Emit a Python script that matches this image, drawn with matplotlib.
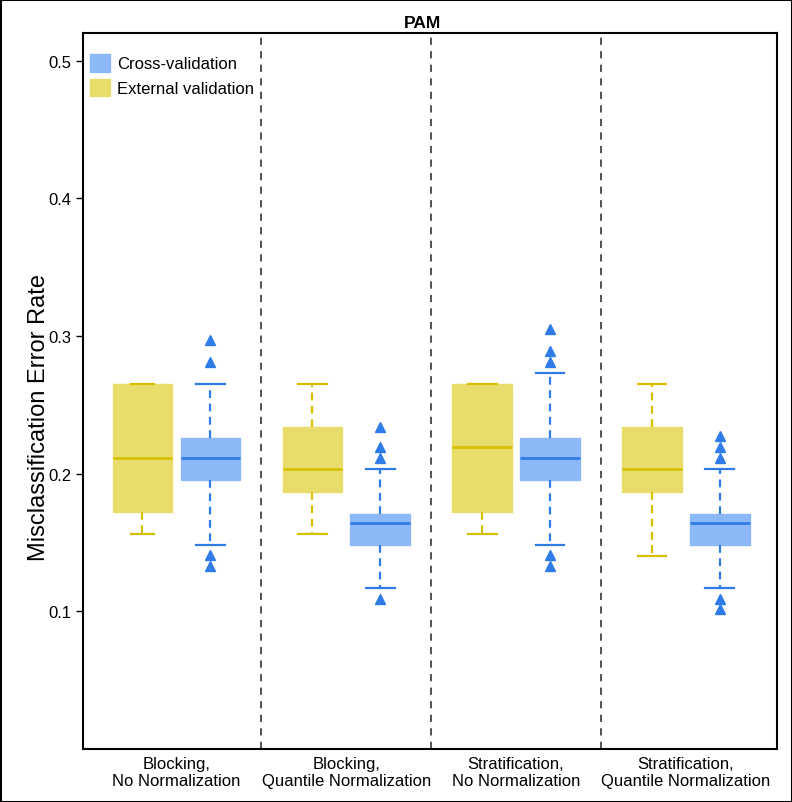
import matplotlib
matplotlib.use("Agg")
import matplotlib.pyplot as plt
from matplotlib.patches import Patch, Rectangle

groups = ["Blocking,\nNo Normalization", "Blocking,\nQuantile Normalization",
          "Stratification,\nNo Normalization", "Stratification,\nQuantile Normalization"]
series = ["External validation", "Cross-validation"]

# External validation (yellow)
ext_whislo = [0.156, 0.156, 0.156, 0.140]
ext_q1 = [0.172, 0.187, 0.172, 0.187]
ext_med = [0.211, 0.203, 0.219, 0.203]
ext_q3 = [0.265, 0.234, 0.265, 0.234]
ext_whishi = [0.265, 0.265, 0.265, 0.265]
ext_fliers = [[], [], [], []]

# Cross-validation (blue)
cv_whislo = [0.148, 0.117, 0.148, 0.117]
cv_q1 = [0.195, 0.148, 0.195, 0.148]
cv_med = [0.211, 0.164, 0.211, 0.164]
cv_q3 = [0.226, 0.171, 0.226, 0.171]
cv_whishi = [0.265, 0.203, 0.273, 0.203]
cv_fliers = [[0.297, 0.281, 0.141, 0.133],
             [0.234, 0.219, 0.211, 0.109],
             [0.305, 0.289, 0.281, 0.141, 0.133],
             [0.227, 0.219, 0.211, 0.109, 0.102]]

y_ticks = [0.1, 0.2, 0.3, 0.4, 0.5]

plt.rcParams['font.family'] = ['Liberation Sans', 'DejaVu Sans']

fig = plt.figure(figsize=(7.92, 8.03), dpi=100)
ax = fig.add_axes([0.1048, 0.066, 0.876, 0.8917])

Y_FILL, Y_LINE = "#E8DC6A", "#D6C000"
B_FILL, B_LINE = "#8DB8F7", "#2F7BE8"

def stats(lo, q1, med, q3, hi, fl):
    return [dict(whislo=a, q1=b, med=c, q3=d, whishi=e, fliers=f)
            for a, b, c, d, e, f in zip(lo, q1, med, q3, hi, fl)]

pos = list(range(1, len(groups) + 1))
off, w = 0.2, 0.35
for st, p, fill, line, cw in [
    (stats(ext_whislo, ext_q1, ext_med, ext_q3, ext_whishi, ext_fliers), [x - off for x in pos],
     Y_FILL, Y_LINE, [0.135, 0.17, 0.17, 0.17]),
    (stats(cv_whislo, cv_q1, cv_med, cv_q3, cv_whishi, cv_fliers), [x + off for x in pos],
     B_FILL, B_LINE, [0.17, 0.17, 0.17, 0.17])]:
    ax.bxp(st, positions=p, widths=w, patch_artist=True, showfliers=True,
           boxprops=dict(facecolor=fill, edgecolor=fill, linewidth=1),
           medianprops=dict(color=line, linewidth=2),
           whiskerprops=dict(color=line, linewidth=1.6, linestyle=(0, (3.5, 2.5))),
           capprops=dict(color=line, linewidth=1.6),
           capwidths=cw,
           flierprops=dict(marker='^', markerfacecolor=line, markeredgecolor=line,
                           markersize=7, linestyle='none'))

for xd in [1.5, 2.5, 3.5]:
    ax.axvline(xd, color="#444444", linestyle=(0, (4, 3.5)), linewidth=1.3)

ax.set_xlim(0.45, 4.535)
ax.set_ylim(0.0, 0.52)
ax.set_yticks(y_ticks)
ax.set_yticklabels([f"{v:.1f}" for v in y_ticks], fontsize=12)
ax.set_xticks(pos)
ax.set_xticklabels(groups, fontsize=12, linespacing=1.2)
ax.tick_params(axis='x', length=0, pad=5)
ax.tick_params(axis='y', length=5, width=1, direction='out')
for s in ax.spines.values():
    s.set_linewidth(1.5)
ax.set_ylabel("Misclassification Error Rate", fontsize=17)
ax.yaxis.set_label_coords(-0.048, 0.465)
ax.set_title("PAM", fontsize=12.5, fontweight='bold', pad=4, x=0.49)

handles = [Patch(facecolor=B_FILL, edgecolor=B_FILL, label="Cross-validation"),
           Patch(facecolor=Y_FILL, edgecolor=Y_FILL, label="External validation")]
ax.legend(handles=handles, loc='upper left', frameon=False, fontsize=12,
          handlelength=1.2, handleheight=1.25, handletextpad=0.42,
          borderaxespad=0, labelspacing=0.42, bbox_to_anchor=(0.0, 0.98))

fig.patches.append(Rectangle((0, 0), 1, 1, transform=fig.transFigure, fill=False,
                             edgecolor="black", linewidth=2.2))

fig.savefig("out.png", dpi=100)
